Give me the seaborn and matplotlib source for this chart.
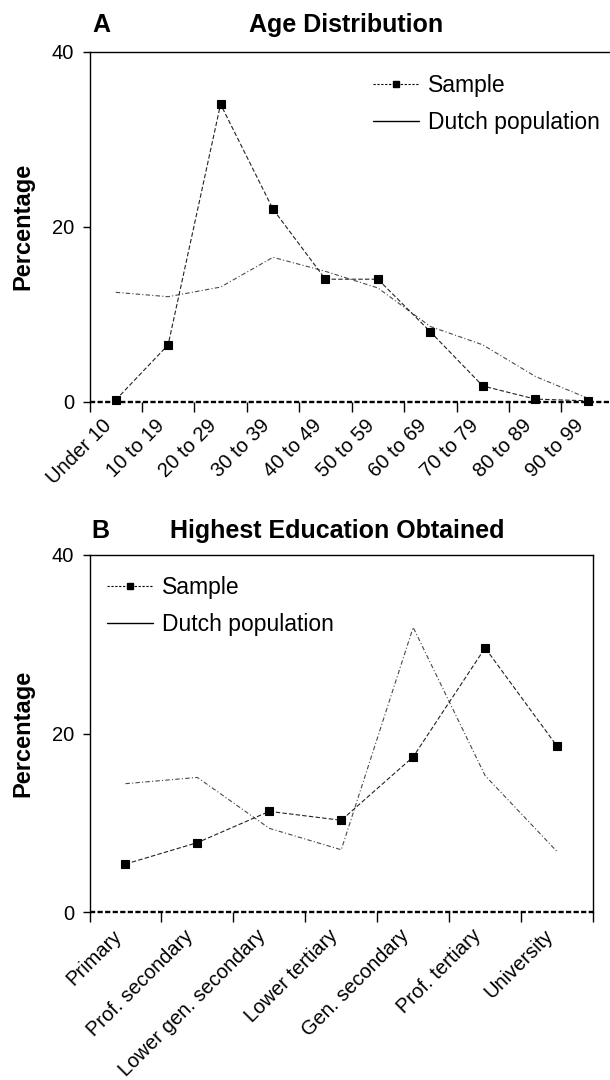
import matplotlib
matplotlib.use("Agg")
import matplotlib.pyplot as plt
from matplotlib.lines import Line2D
import numpy as np
import pandas as pd
import seaborn as sns

# Age distribution (percentages)
age_groups = ["Under 10", "10 to 19", "20 to 29", "30 to 39", "40 to 49",
              "50 to 59", "60 to 69", "70 to 79", "80 to 89", "90 to 99"]
age_sample = [0.2, 6.5, 34.0, 22.0, 14.0, 14.0, 8.0, 1.8, 0.3, 0.1]
age_dutch = [12.5, 12.0, 13.1, 16.5, 14.9, 13.0, 8.6, 6.5, 2.9, 0.4]

# Highest education obtained (percentages)
edu_levels = ["Primary", "Prof. secondary", "Lower gen. secondary",
              "Lower tertiary", "Gen. secondary", "Prof. tertiary", "University"]
edu_sample = [5.4, 7.8, 11.3, 10.3, 17.4, 29.6, 18.6]
edu_dutch = [14.4, 15.1, 9.4, 7.0, 31.9, 15.3, 6.8]

y_ticks = [0, 20, 40]

sns.set_theme(style="ticks")
plt.rcParams["font.family"] = ["Liberation Sans", "DejaVu Sans"]
plt.rcParams.update({"text.color": "black", "axes.labelcolor": "black",
                     "xtick.color": "black", "ytick.color": "black"})

W, H = 610, 1080
fig = plt.figure(figsize=(W / 100, H / 100), dpi=100)


def px_axes(left, top, right, bottom):
    return fig.add_axes([left / W, 1 - bottom / H, (right - left) / W, (bottom - top) / H])


def draw_panel(ax, cats, sample, dutch, legend_anchor):
    n = len(cats)
    df = pd.DataFrame({"cat": cats, "Sample": sample, "Dutch population": dutch})
    sns.lineplot(data=df, x="cat", y="Dutch population", ax=ax, sort=False,
                 color="#4a4a4a", linewidth=0.8, linestyle=(0, (4, 2, 1, 2)),
                 errorbar=None)
    sns.lineplot(data=df, x="cat", y="Sample", ax=ax, sort=False,
                 color="#222222", linewidth=0.8, linestyle=(0, (4, 2)),
                 marker="s", markersize=6, markerfacecolor="black",
                 markeredgecolor="black", markeredgewidth=0.8, errorbar=None,
                 clip_on=False, zorder=4)
    ax.set_xlim(-0.5, n - 0.5)
    ax.set_ylim(0, 40)

    # category labels at centres, tick marks at category boundaries
    ax.set_xticks(np.arange(n))
    ax.set_xticklabels(cats, rotation=45, ha="right", va="top", fontsize=14.5)
    ax.tick_params(axis="x", which="major", length=0, pad=10)
    ax.set_xticks(np.arange(n + 1) - 0.5, minor=True)
    ax.tick_params(axis="x", which="minor", length=7, width=1.0, color="black",
                   direction="out")
    ax.set_yticks(y_ticks)
    ax.set_yticklabels([str(v) for v in y_ticks], fontsize=14.5)
    ax.tick_params(axis="y", length=5, width=1.0, color="black", pad=6,
                   direction="out")

    ax.set_xlabel("")
    ax.set_ylabel("Percentage", fontsize=17, fontweight="bold")
    ax.yaxis.set_label_coords(-0.105 * 524 / (ax.get_position().width * W), 0.5)

    for side in ("left", "top", "right"):
        ax.spines[side].set_color("black")
        ax.spines[side].set_linewidth(1.0)
    ax.spines["bottom"].set_visible(False)
    ax.axhline(0, color="black", linewidth=1.7, linestyle=(0, (2.2, 1.0)),
               zorder=3, clip_on=False)

    handles = [
        Line2D([], [], color="black", linewidth=0.8, linestyle=(0, (2, 1.5)),
               marker="s", markersize=5, markerfacecolor="black",
               markeredgecolor="black"),
        Line2D([], [], color="black", linewidth=1.0),
    ]
    ax.legend(handles, ["Sample", "Dutch population"], loc="upper left",
              bbox_to_anchor=legend_anchor, frameon=False, fontsize=16.5,
              handlelength=2.0, handletextpad=0.4, labelspacing=0.6,
              borderpad=0, borderaxespad=0)


ax_a = px_axes(89.5, 51.7, 613.8, 401.7)
draw_panel(ax_a, age_groups, age_sample, age_dutch, (0.541, 0.935))

ax_b = px_axes(89.5, 555.0, 593.0, 912.3)
draw_panel(ax_b, edu_levels, edu_sample, edu_dutch, (0.035, 0.94))

fig.text(101 / W, 1 - 25 / H, "A", fontsize=18, fontweight="bold",
         ha="center", va="center")
fig.text(346 / W, 1 - 25 / H, "Age Distribution", fontsize=18,
         fontweight="bold", ha="center", va="center")
fig.text(100 / W, 1 - 531 / H, "B", fontsize=18, fontweight="bold",
         ha="center", va="center")
fig.text(337 / W, 1 - 531 / H, "Highest Education Obtained", fontsize=18,
         fontweight="bold", ha="center", va="center")

fig.savefig("out.png", dpi=100, facecolor="white")
